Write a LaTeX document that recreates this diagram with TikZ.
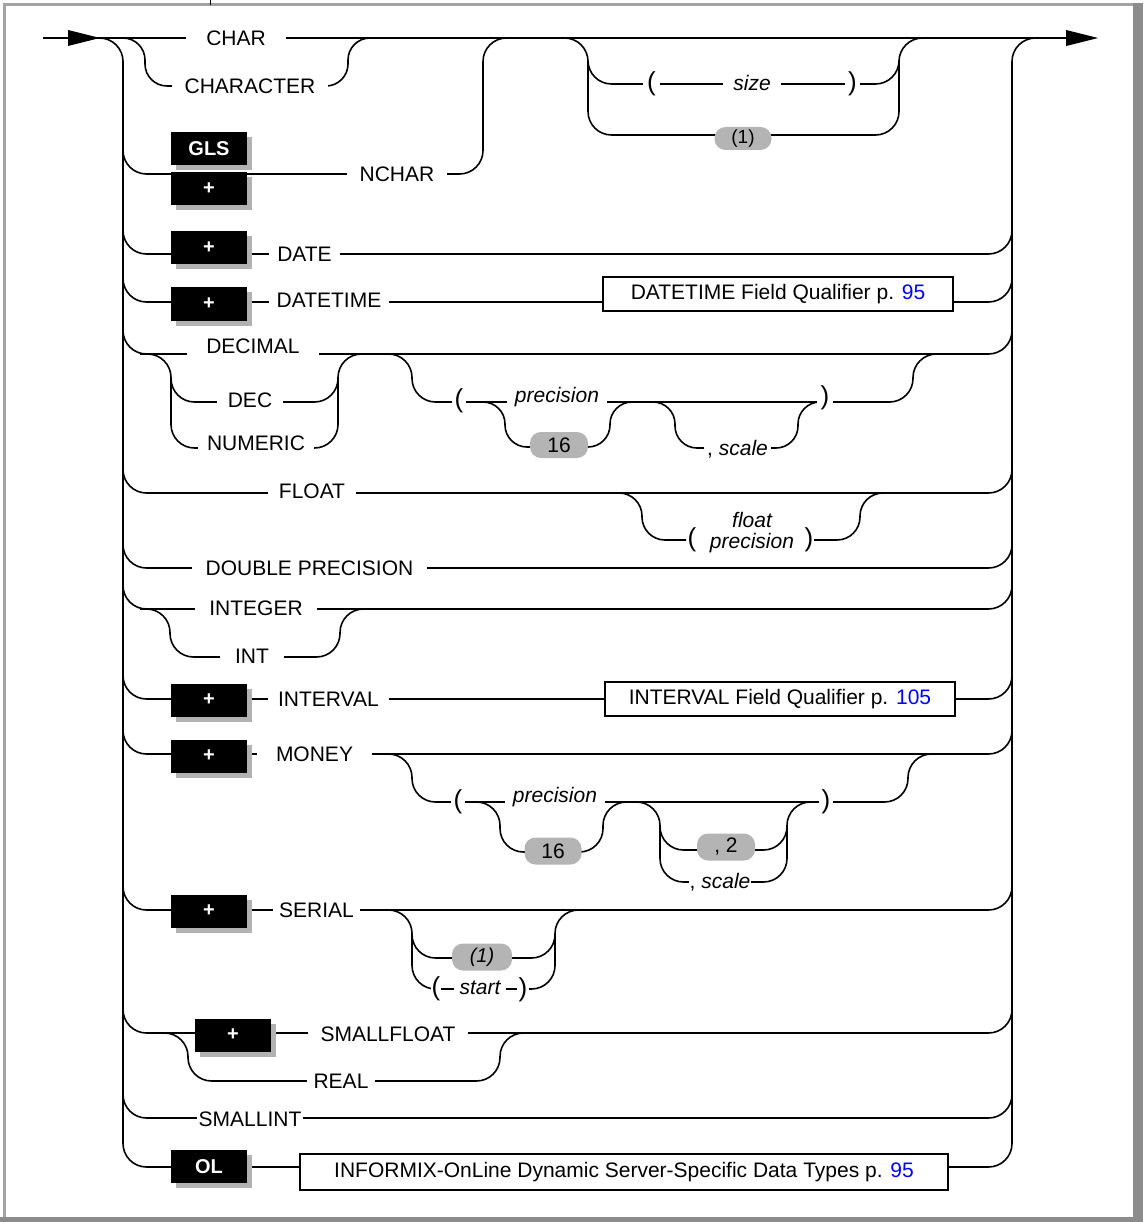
\documentclass[tikz,border=0pt]{standalone}
\usepackage{fontspec}
\setmainfont{Liberation Sans}
\definecolor{shadowgray}{RGB}{178,178,178}
\definecolor{pillgray}{RGB}{180,180,180}
\definecolor{framegray}{RGB}{140,140,140}
\definecolor{linkblue}{RGB}{0,0,255}
\newcommand{\kwf}{\fontsize{21}{21}\selectfont}
\newcommand{\parf}{\fontsize{26}{26}\selectfont}
\newcommand{\blkbox}[4]{%
  \fill[shadowgray] ({#2-33},{#3-11.5}) rectangle ({#2+43},{#3+21.5});
  \node[blk] (#1) at (#2,#3) {#4};}
\tikzset{
  rail/.style={line width=1.6pt, rounded corners=23.5pt},
  kw/.style={font=\kwf, fill=white, inner ysep=0pt, text height=15pt, text depth=5pt, anchor=base, inner xsep=#1},
  kw/.default=10pt,
  ikw/.style={kw=#1, font=\kwf\itshape},
  ikw/.default=8pt,
  prn/.style={font=\parf, fill=white, inner ysep=0pt, inner xsep=#1},
  prn/.default=4pt,
  blk/.style={fill=black, text=white, font=\fontsize{20}{20}\selectfont\bfseries, minimum width=76pt, minimum height=33pt, inner sep=0pt},
  pill/.style={fill=pillgray, rounded corners=11pt, inner sep=0pt, font=\kwf},
  refbox/.style={draw, line width=2.8pt, fill=white, minimum height=34pt, inner sep=0pt, font=\kwf},
}
\begin{document}
\begin{tikzpicture}[x=1pt,y=-1pt]
\useasboundingbox (0,0) rectangle (1143,1222);
% frame
\fill[framegray!80] (3,3) rectangle (1143,6);
\fill[framegray!80] (3,3) rectangle (6,1222);
\fill[framegray] (0,1217) rectangle (1143,1222);
\fill[framegray] (1133,3) rectangle (1143,1222);
\draw[line width=1.2pt] (210.5,0) -- (210.5,5);

% main line and arrows
\draw[rail] (43,38) -- (1070,38);
\fill (68,30) -- (100,38) -- (68,46) -- cycle;
\fill (1066,30) -- (1098,38) -- (1066,46) -- cycle;

% trunks
\draw[rail] (95,38) -- (123,38) -- (123,1167) -- (1012,1167) -- (1012,38) -- (1045,38);
\foreach \yy in {254,302,354,493,568,609,699,754,910,1033,1118}
  \draw[rail] (123,\yy-40) -- (123,\yy) -- (1012,\yy) -- (1012,\yy-40);

% CHAR / CHARACTER
\draw[rail, rounded corners=22pt] (110,38) -- (145,38) -- (145,86) -- (348,86) -- (348,38) -- (380,38);
% NCHAR
\draw[rail] (123,130) -- (123,174) -- (483,174) -- (483,38) -- (515,38);
% size
\draw[rail] (555,38) -- (588,38) -- (588,135) -- (899,135) -- (899,38) -- (930,38);
\draw[rail] (588,62) -- (588,84) -- (899,84) -- (899,62);
% DEC / NUMERIC
\draw[rail] (140,354) -- (171,354) -- (171,448) -- (338,448) -- (338,354) -- (370,354);
\draw[rail] (171,378) -- (171,402) -- (338,402) -- (338,378);
% decimal precision
\draw[rail] (380,354) -- (412,354) -- (412,402) -- (913,402) -- (913,354) -- (945,354);
\draw[rail, rounded corners=22pt] (470,402) -- (505,402) -- (505,447) -- (610,447) -- (610,402) -- (640,402);
\draw[rail, rounded corners=22pt] (620,402) -- (675,402) -- (675,448) -- (798,448) -- (798,402) -- (822,402);
% float precision
\draw[rail, rounded corners=23pt] (600,493) -- (642,493) -- (642,540) -- (686,540);
\draw[rail, rounded corners=23pt] (814,540) -- (860,540) -- (860,493) -- (895,493);
% INT
\draw[rail] (140,609) -- (170,609) -- (170,657) -- (340,657) -- (340,609) -- (370,609);
% money
\draw[rail] (380,754) -- (412,754) -- (412,802) -- (908,802) -- (908,754) -- (940,754);
\draw[rail] (470,802) -- (500,802) -- (500,852) -- (603,852) -- (603,802) -- (630,802);
\draw[rail] (630,802) -- (660,802) -- (660,882) -- (787,882) -- (787,802) -- (818,802);
\draw[rail] (660,826) -- (660,850) -- (787,850) -- (787,826);
% serial
\draw[rail] (380,910) -- (412,910) -- (412,989) -- (555,989) -- (555,910) -- (590,910);
\draw[rail] (412,934) -- (412,958) -- (555,958) -- (555,934);
% REAL
\draw[rail] (160,1033) -- (188,1033) -- (188,1081) -- (500,1081) -- (500,1033) -- (530,1033);

% black boxes
\blkbox{gls}{209}{148.5}{GLS}
\blkbox{pnchar}{209}{188.5}{+}
\blkbox{pdate}{209}{247.5}{+}
\blkbox{pdatetime}{209}{304}{+}
\blkbox{pinterval}{209}{700}{+}
\blkbox{pmoney}{209}{756}{+}
\blkbox{pserial}{209}{911}{+}
\blkbox{psmallfloat}{233}{1035}{+}
\blkbox{ol}{209}{1166.5}{OL}

% keywords
\node[kw=20pt] (char) at (236,45.5) {CHAR};
\node[kw=13pt] (character) at (250,93.5) {CHARACTER};
\node[kw=12.5pt] (nchar) at (397,181.5) {NCHAR};
\node[kw=8.5pt] (date) at (304.5,262) {DATE};
\node[kw=8pt] (datetime) at (329,307) {DATETIME};
\node[kw=19.5pt] (decimal) at (253,353) {DECIMAL};
\node[kw=11pt] (dec) at (250,407) {DEC};
\node[kw=9pt] (numeric) at (256,450) {NUMERIC};
\node[kw=11pt] (float) at (312,498.5) {FLOAT};
\node[kw=13.5pt] (double) at (309.5,575) {DOUBLE PRECISION};
\node[kw=14.5pt] (integer) at (256,615) {INTEGER};
\node[kw=15.5pt] (int) at (252,663.5) {INT};
\node[kw=10pt] (interval) at (328.5,706) {INTERVAL};
\node[kw=19pt] (money) at (314.5,761) {MONEY};
\node[kw=6pt] (serial) at (316.5,917) {SERIAL};
\node[kw=12.7pt] (smallfloat) at (388,1041) {SMALLFLOAT};
\node[kw=6.5pt] (real) at (341,1088.5) {REAL};
\node[kw=2pt] (smallint) at (250,1126) {SMALLINT};

% size
\node[prn=4pt] (lp1) at (651.5,84) {(};
\node[ikw=10.5pt] (size) at (752,91) {size};
\node[prn=3.5pt] (rp1) at (852.5,84) {)};
\node[pill, minimum width=57pt, minimum height=23pt] (one1) at (743,138.5) {\fontsize{19}{19}\selectfont (1)};

% decimal precision
\node[prn=3pt] (lp2) at (459,401) {(};
\node[ikw=8pt] (prec1) at (557,402) {precision};
\node[pill, minimum width=58pt, minimum height=26pt] (sixteen1) at (559,445) {16};
\node[kw=3pt] (scale1) at (737.5,455) {, \textit{scale}};
\node[prn=3.5pt] (rp2) at (825,398) {)};

% float precision
\node[prn=1pt] (lp3) at (692,540) {(};
\node[font=\kwf\itshape, inner sep=0pt, anchor=base] (fl) at (752,527) {float};
\node[font=\kwf\itshape, inner sep=0pt, anchor=base] (flp) at (752,548) {precision};
\node[prn=1pt] (rp3) at (809,540) {)};

% refboxes
\node[refbox, minimum width=350pt] (dtq) at (778,294) {DATETIME Field Qualifier p. \textcolor{linkblue}{95}};
\node[refbox, minimum width=350pt] (ivq) at (780,699) {INTERVAL Field Qualifier p. \textcolor{linkblue}{105}};
\node[refbox, minimum width=648pt, minimum height=36pt] (olq) at (624,1172) {INFORMIX-OnLine Dynamic Server-Specific Data Types p. \textcolor{linkblue}{95}};

% money precision
\node[prn=3pt] (lp4) at (458,802) {(};
\node[ikw=8pt] (prec2) at (555,802) {precision};
\node[pill, minimum width=57pt, minimum height=27pt] (sixteen2) at (553,851) {16};
\node[pill, minimum width=58pt, minimum height=27pt] (two) at (726,847) {, 2};
\node[kw=1pt] (scale2) at (720,888) {, \textit{scale}};
\node[prn=3pt] (rp4) at (826,802) {)};

% serial
\node[pill, minimum width=60pt, minimum height=27pt] (one2) at (482,957) {\fontsize{20}{20}\selectfont\itshape (1)};
\node[prn=1pt] (lp5) at (436,989) {(};
\node[ikw=6pt] (start) at (480,994) {start};
\node[prn=2pt] (rp5) at (523,990) {)};
\end{tikzpicture}
\end{document}
